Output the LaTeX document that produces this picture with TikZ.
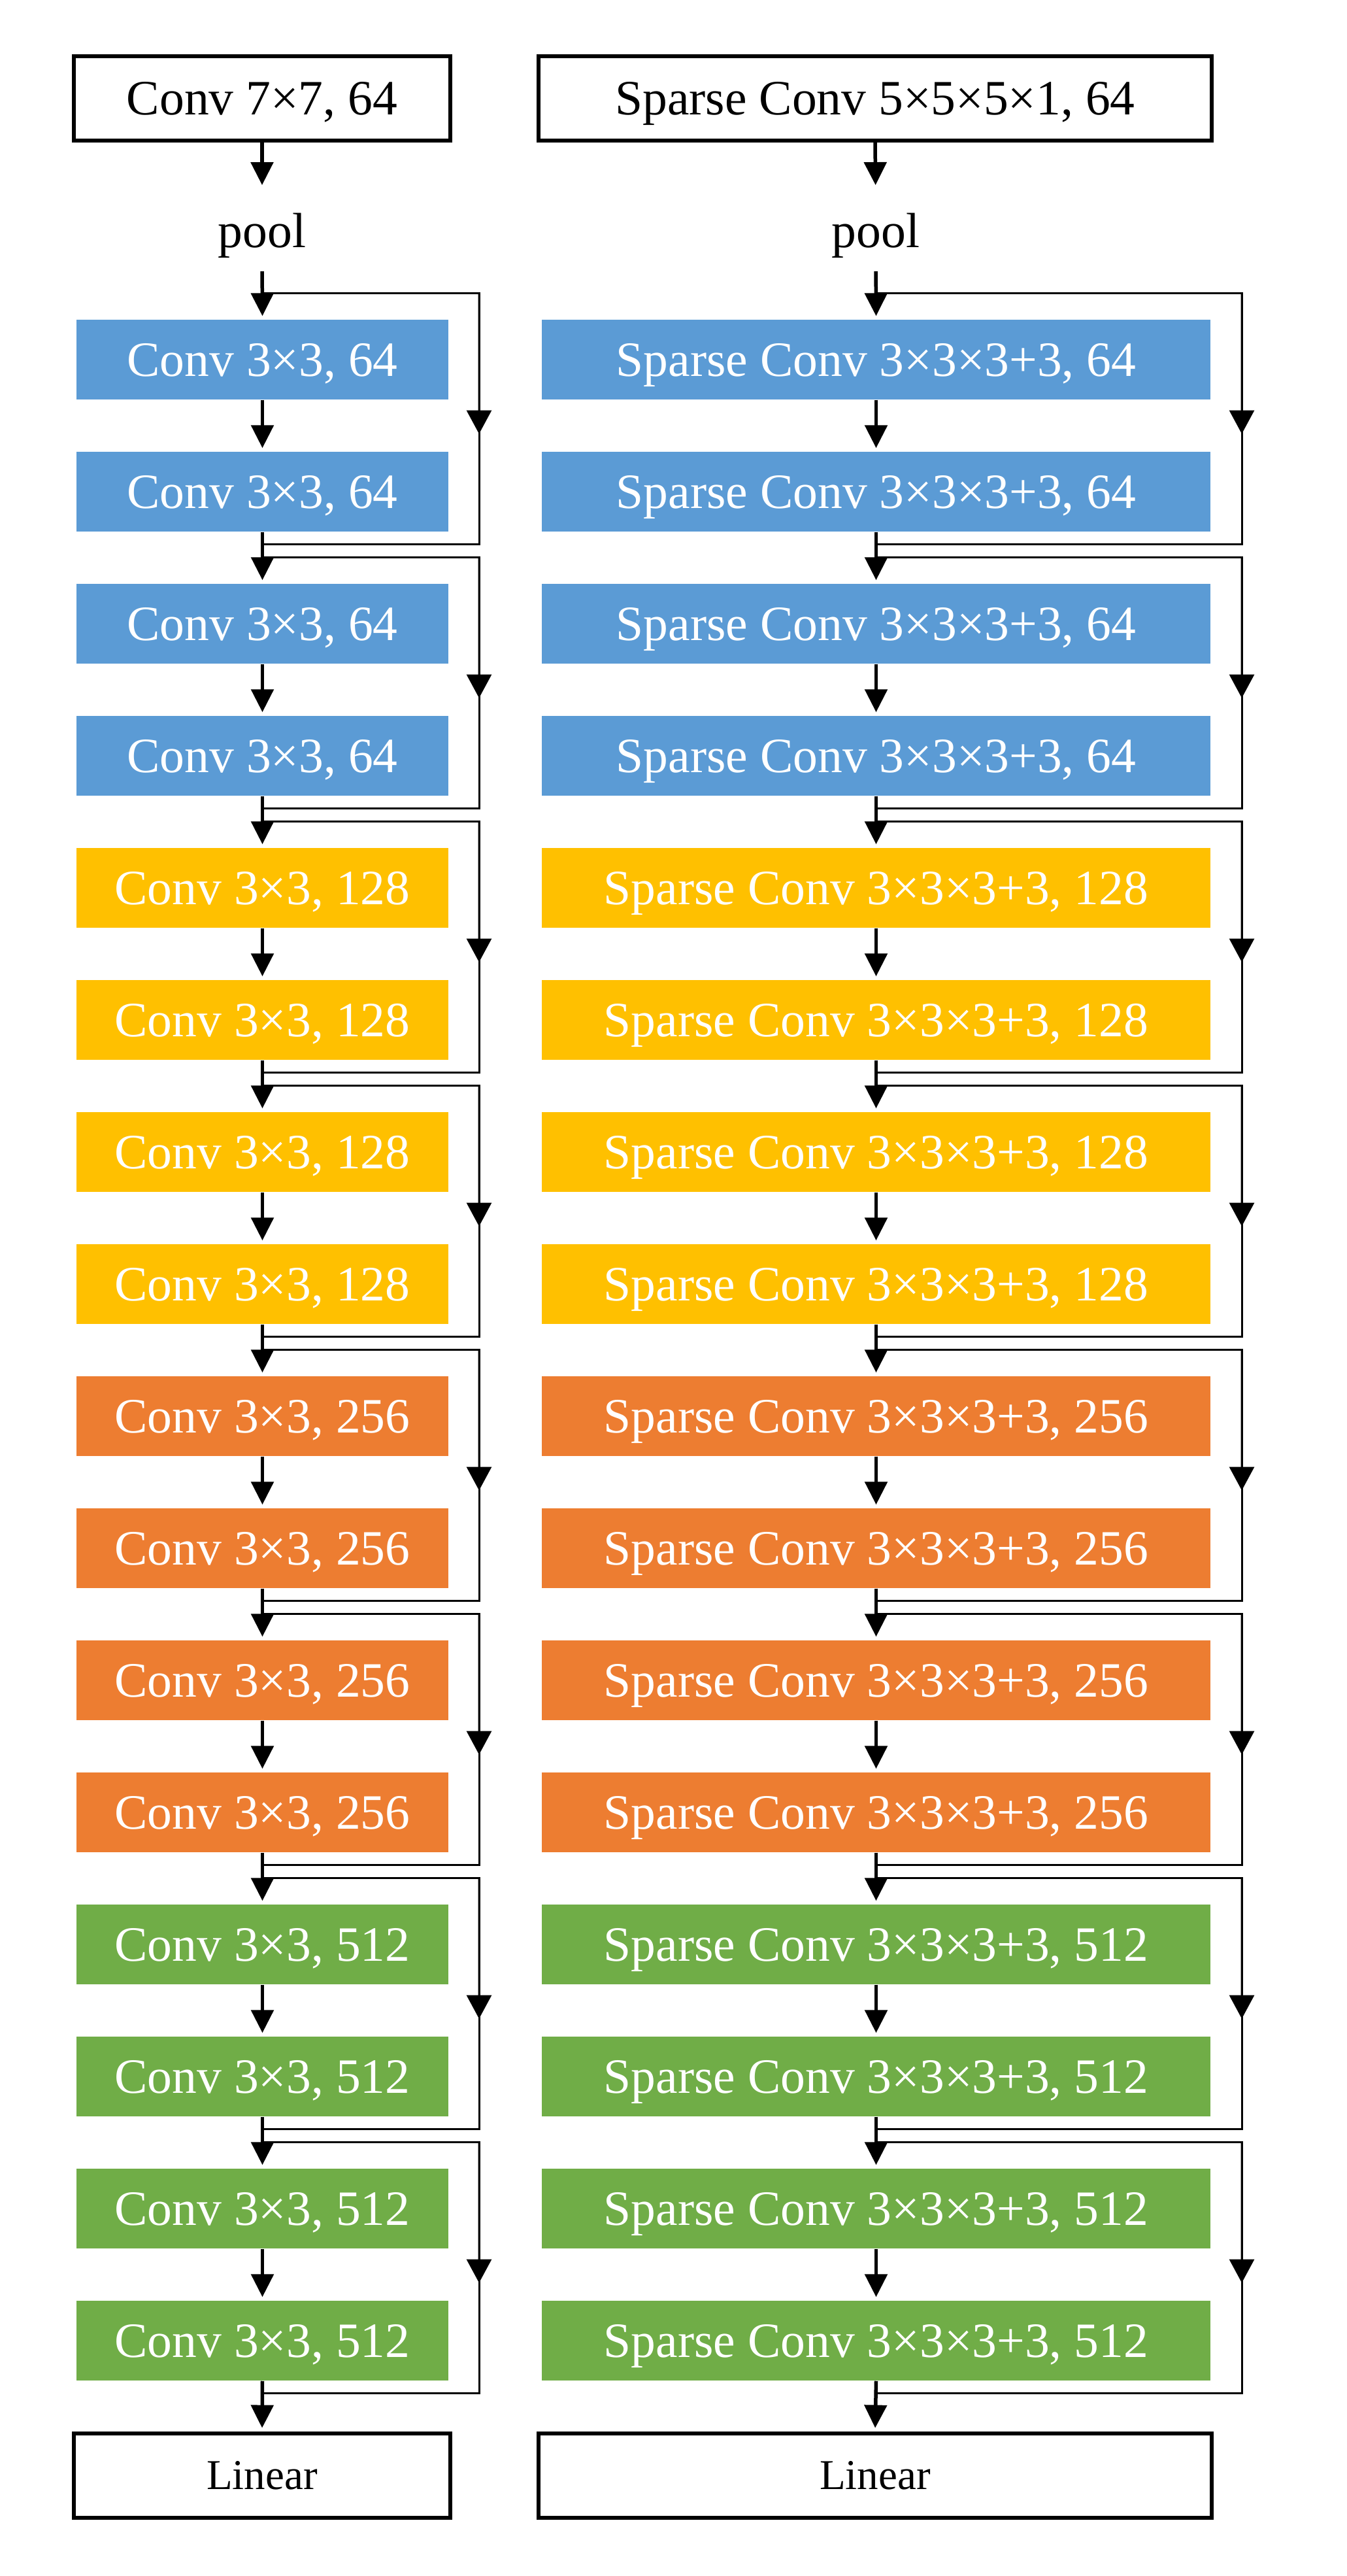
\documentclass[tikz,border=0pt]{standalone}
\usepackage{fontspec}
\setmainfont{Liberation Serif}
\usepackage{tikz}
\usetikzlibrary{arrows.meta}
\usetikzlibrary{calc}
\definecolor{convblue}{HTML}{5B9BD5}
\definecolor{convyellow}{HTML}{FFC000}
\definecolor{convorange}{HTML}{ED7D31}
\definecolor{convgreen}{HTML}{70AD47}

\begin{document}
\begin{tikzpicture}[
    bigtext/.style={font=\fontsize{21.5}{26}\selectfont, text height=14.3pt, text depth=0pt},
    smalltext/.style={font=\fontsize{18.5}{22}\selectfont, text height=12.3pt, text depth=0pt},
    layer/.style={bigtext, inner sep=0, text=white, minimum height=1.22cm},
    framebox/.style={draw, line width=0.06cm, inner sep=0, minimum height=1.29cm},
    flow/.style={line width=0.055cm, -{Triangle[length=0.35cm,width=0.34cm]}, shorten >=0.05cm},
    skipline/.style={line width=0.03cm},
    skiparrow/.style={line width=0.03cm, -{Triangle[length=0.36cm,width=0.38cm]}}
]
    \useasboundingbox (0,0) rectangle (20.6,-39.4);

    % Left column
    \node[framebox, bigtext, minimum width=5.76cm] (Ltop) at (4.01,-1.50) {Conv 7×7, 64};
    \node[inner sep=0, font=\fontsize{21.5}{26}\selectfont] (Lpool) at (4.01,-3.60) {pool};
    \foreach \i/\c/\n in {1/convblue/64, 2/convblue/64, 3/convblue/64, 4/convblue/64,
                          5/convyellow/128, 6/convyellow/128, 7/convyellow/128, 8/convyellow/128,
                          9/convorange/256, 10/convorange/256, 11/convorange/256, 12/convorange/256,
                          13/convgreen/512, 14/convgreen/512, 15/convgreen/512, 16/convgreen/512}
        \node[layer, fill=\c, minimum width=5.69cm] (L\i) at (4.015,{-5.50-2.02*(\i-1)}) {Conv 3×3, \n};
    \node[framebox, smalltext, minimum width=5.76cm] (Llin) at (4.01,-37.86) {Linear};

    % Right column
    \node[framebox, bigtext, minimum width=10.30cm] (Rtop) at (13.39,-1.50) {Sparse Conv 5×5×5×1, 64};
    \node[inner sep=0, font=\fontsize{21.5}{26}\selectfont] (Rpool) at (13.40,-3.60) {pool};
    \foreach \i/\c/\n in {1/convblue/64, 2/convblue/64, 3/convblue/64, 4/convblue/64,
                          5/convyellow/128, 6/convyellow/128, 7/convyellow/128, 8/convyellow/128,
                          9/convorange/256, 10/convorange/256, 11/convorange/256, 12/convorange/256,
                          13/convgreen/512, 14/convgreen/512, 15/convgreen/512, 16/convgreen/512}
        \node[layer, fill=\c, minimum width=10.23cm] (R\i) at (13.405,{-5.50-2.02*(\i-1)}) {Sparse Conv 3×3×3+3, \n};
    \node[framebox, smalltext, minimum width=10.30cm] (Rlin) at (13.39,-37.86) {Linear};

    % Main flow
    \foreach \s in {L,R} {
        \draw[flow, shorten >=0.42cm] (\s top.south) -- (\s pool.north);
        \draw[flow, shorten <=0.2cm] (\s pool.south) -- (\s 1.north);
        \foreach \i in {1,...,15} {
            \pgfmathtruncatemacro\j{\i+1}
            \draw[flow] (\s\i.south) -- (\s\j.north);
        }
        \draw[flow] (\s 16.south) -- (\s lin.north);
    }

    % Shortcuts
    \coordinate (Lx) at (7.33,0);
    \coordinate (Rx) at (19.00,0);
    \foreach \s in {L,R} {
        \foreach \b in {1,3,...,15} {
            \pgfmathtruncatemacro\e{\b+1}
            \coordinate (\s a\b) at ($(\s\b.north)+(0,0.40)$);
            \coordinate (\s b\b) at ($(\s\e.south)+(0,-0.19)$);
            \coordinate (\s u\b) at (\s x |- \s a\b);
            \coordinate (\s d\b) at (\s x |- \s b\b);
            \draw[skipline] (\s a\b) -- (\s u\b) -- (\s d\b) -- (\s b\b);
            \draw[skiparrow] (\s u\b) -- ($(\s u\b)!0.56!(\s d\b)$);
        }
    }
\end{tikzpicture}
\end{document}
